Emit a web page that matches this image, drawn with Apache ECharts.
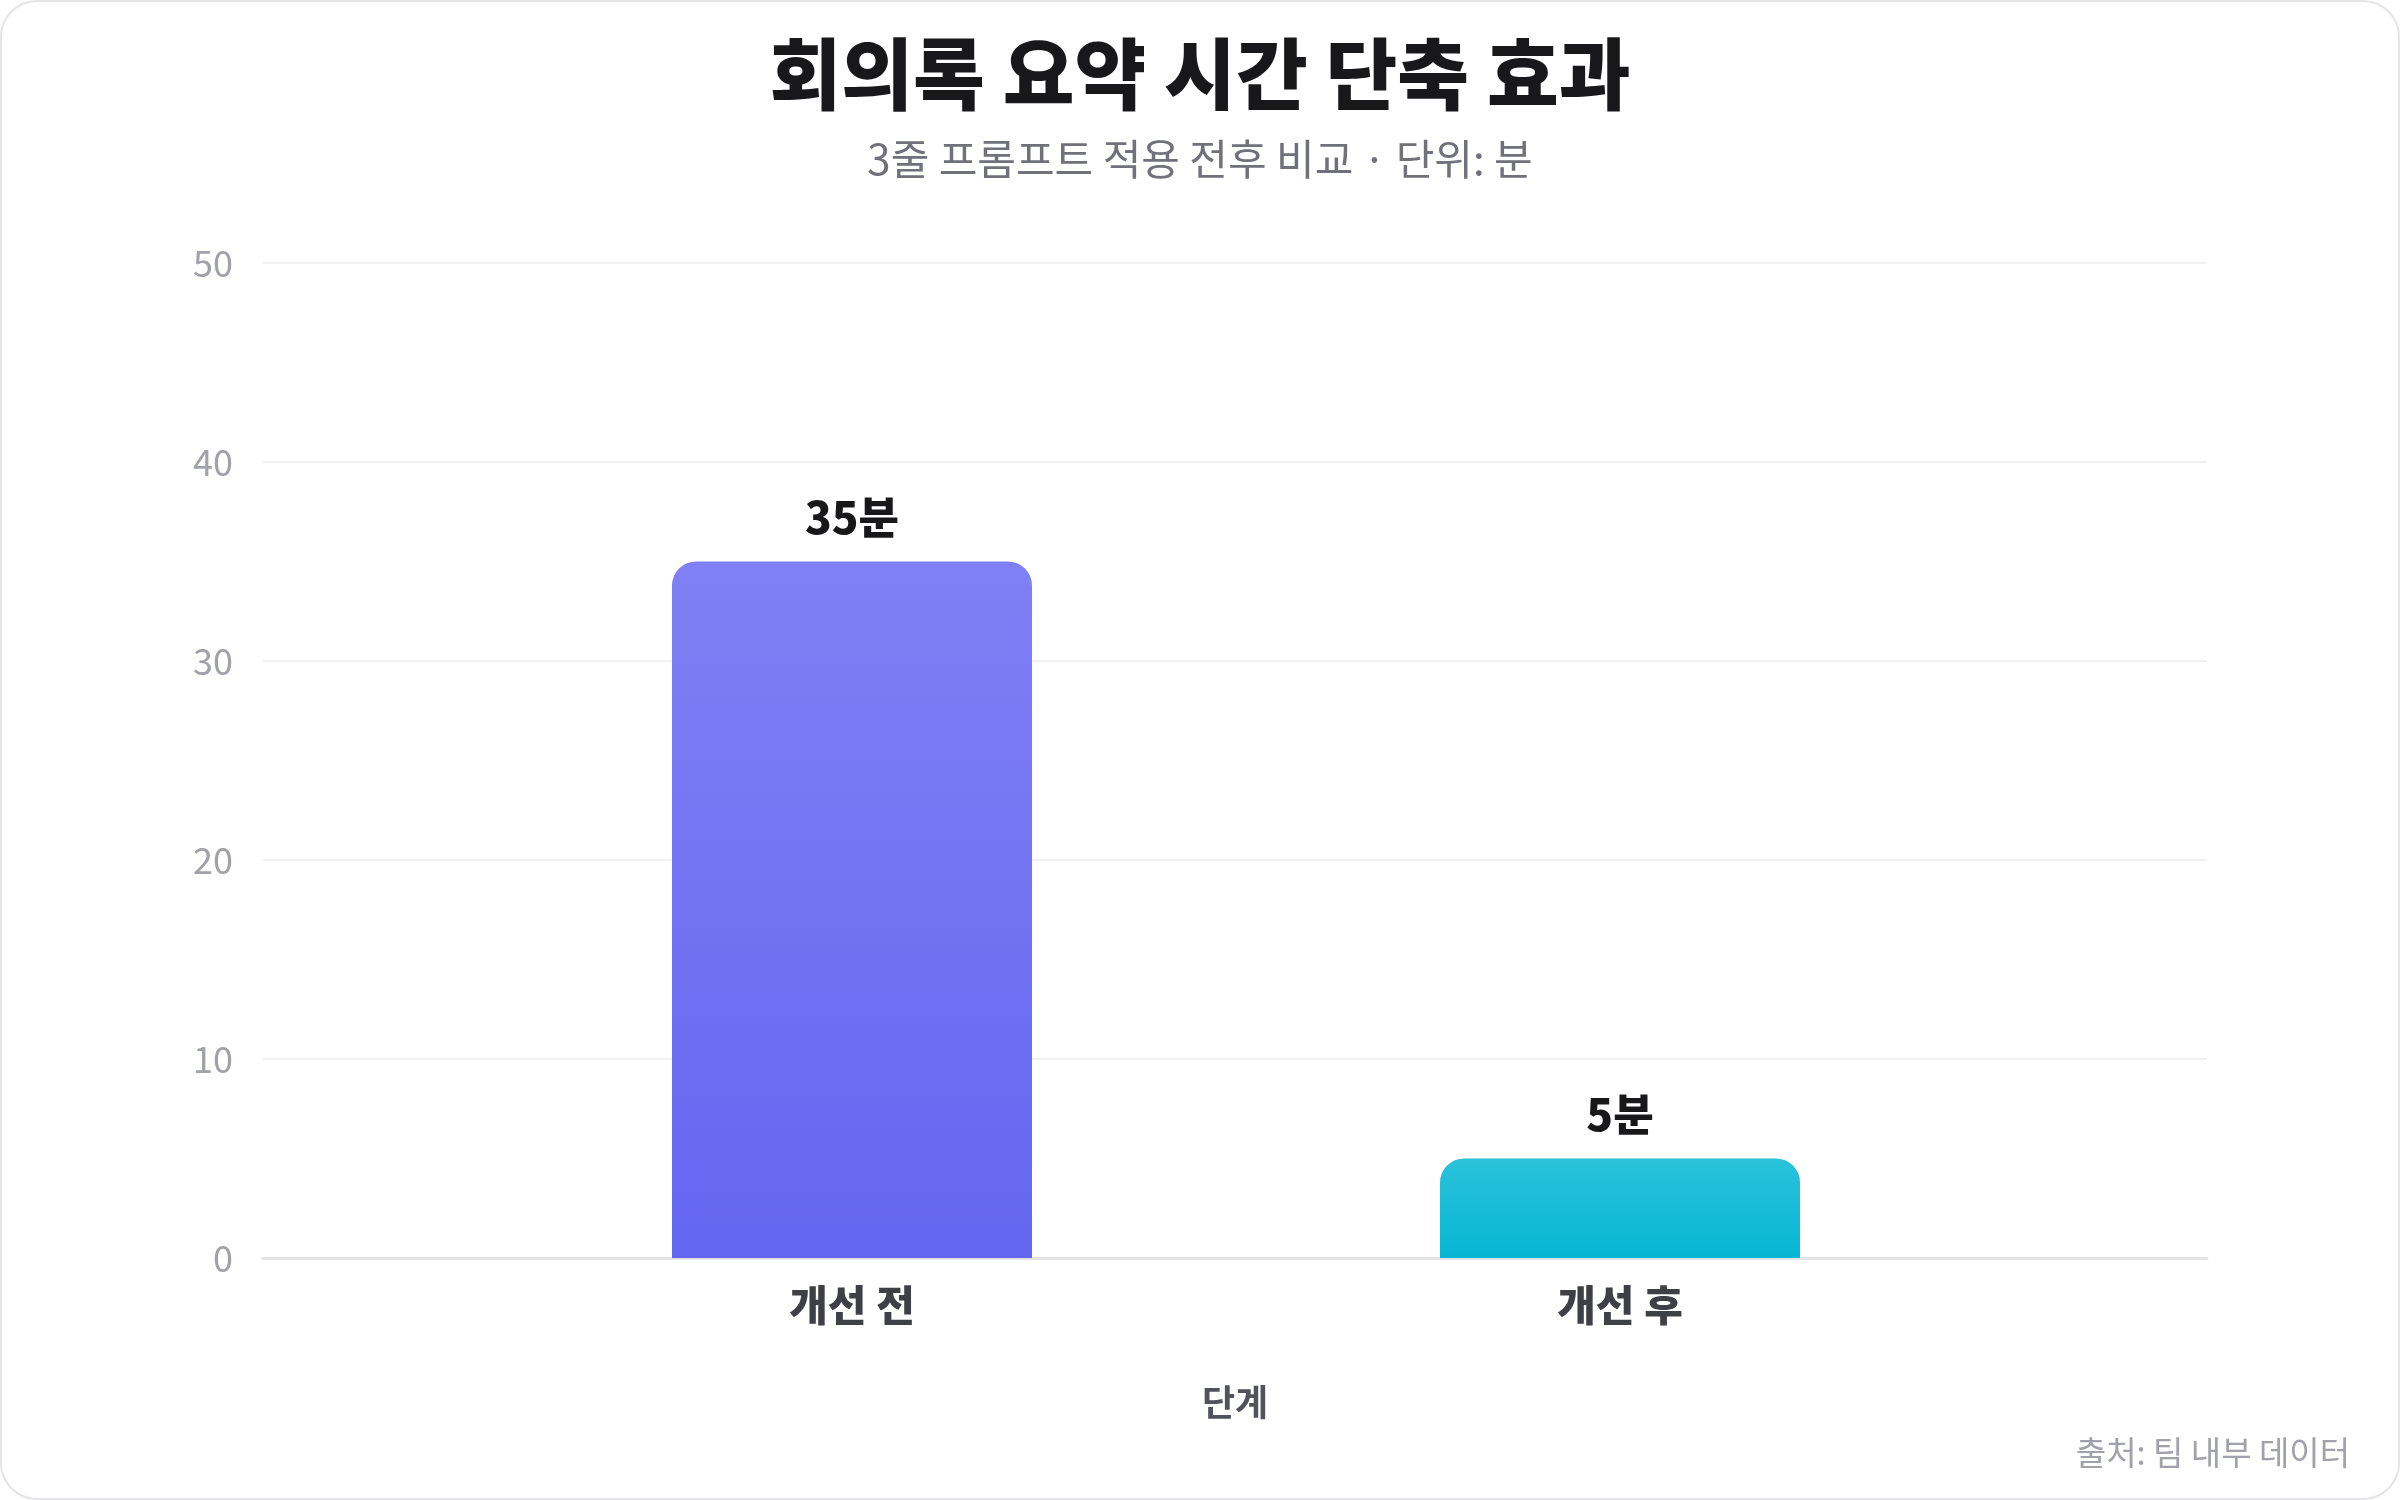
<!DOCTYPE html>
<html>
<head>
<meta charset="utf-8">
<script src="https://cdn.jsdelivr.net/npm/echarts@6/dist/echarts.min.js"></script>
<style>
  html, body { margin: 0; padding: 0; background: #ffffff; }
  #chart { width: 2400px; height: 1500px; }
</style>
</head>
<body>
<div id="chart"></div>
<script>
const titleText = '회의록 요약 시간 단축 효과';
const subtitleText = '3줄 프롬프트 적용 전후 비교 · 단위: 분';
const sourceText = '출처: 팀 내부 데이터';
const xAxisName = '단계';
const categories = ['개선 전', '개선 후'];
const values = [35, 5];
const valueUnit = '분';
const yMin = 0;
const yMax = 50;
const yInterval = 10;

const FONT = '"Noto Sans CJK KR", "Noto Sans", sans-serif';
const gradients = [
  ['#8080f4', '#6366f1'],
  ['#2bc2db', '#06b6d4']
];

const chart = echarts.init(document.getElementById('chart'), null, { renderer: 'canvas' });

const option = {
  backgroundColor: 'transparent',
  animation: false,
  textStyle: { fontFamily: FONT },
  title: [
    {
      text: titleText,
      left: 'center',
      top: 30,
      textStyle: { fontFamily: FONT, fontSize: 78, fontWeight: 900, color: '#18181b' }
    },
    {
      text: subtitleText,
      left: 'center',
      top: 133,
      textStyle: { fontFamily: FONT, fontSize: 42, fontWeight: 400, color: '#71717a' }
    }
  ],
  graphic: [
    {
      type: 'rect',
      z: -10,
      silent: true,
      shape: { x: 1, y: 1, width: 2398, height: 1498, r: 36 },
      style: { fill: '#ffffff', stroke: '#e4e4e7', lineWidth: 2 }
    },
    {
      type: 'text',
      right: 50,
      top: 1436,
      style: { text: sourceText, font: '400 33px ' + FONT, fill: '#a1a1aa' }
    }
  ],
  grid: [
    { left: 263, right: 193, top: 263, bottom: 242, containLabel: false },
    { left: 468, right: 396, top: 263, bottom: 242, containLabel: false }
  ],
  xAxis: [
    {
      type: 'category',
      gridIndex: 0,
      data: categories,
      axisLine: { show: true, lineStyle: { color: '#e4e4e7', width: 3 } },
      axisTick: { show: false },
      axisLabel: { show: false },
      name: xAxisName,
      nameLocation: 'middle',
      nameGap: 126,
      nameTextStyle: { fontFamily: FONT, fontSize: 36, fontWeight: 700, color: '#52525b' }
    },
    {
      type: 'category',
      gridIndex: 1,
      data: categories,
      axisLine: { show: false },
      axisTick: { show: false },
      axisLabel: {
        show: true,
        margin: 26,
        fontFamily: FONT,
        fontSize: 42,
        fontWeight: 900,
        color: '#3f3f46'
      }
    }
  ],
  yAxis: [
    {
      type: 'value',
      gridIndex: 0,
      min: yMin,
      max: yMax,
      interval: yInterval,
      axisLine: { show: false },
      axisTick: { show: false },
      axisLabel: { margin: 30, fontFamily: FONT, fontSize: 36, color: '#a1a1aa' },
      splitLine: { show: true, lineStyle: { color: '#f1f1f4', width: 2 } }
    },
    {
      type: 'value',
      gridIndex: 1,
      min: yMin,
      max: yMax,
      interval: yInterval,
      show: false,
      splitLine: { show: false }
    }
  ],
  series: [
    {
      type: 'bar',
      xAxisIndex: 1,
      yAxisIndex: 1,
      barWidth: 360,
      data: values.map((v, i) => ({
        value: v,
        itemStyle: {
          borderRadius: [24, 24, 0, 0],
          color: new echarts.graphic.LinearGradient(0, 0, 0, 1, [
            { offset: 0, color: gradients[i][0] },
            { offset: 1, color: gradients[i][1] }
          ])
        }
      })),
      label: {
        show: true,
        position: 'top',
        distance: 22,
        formatter: (p) => p.value + valueUnit,
        fontFamily: FONT,
        fontSize: 44,
        fontWeight: 900,
        color: '#18181b'
      }
    }
  ]
};

chart.setOption(option);
</script>
</body>
</html>
